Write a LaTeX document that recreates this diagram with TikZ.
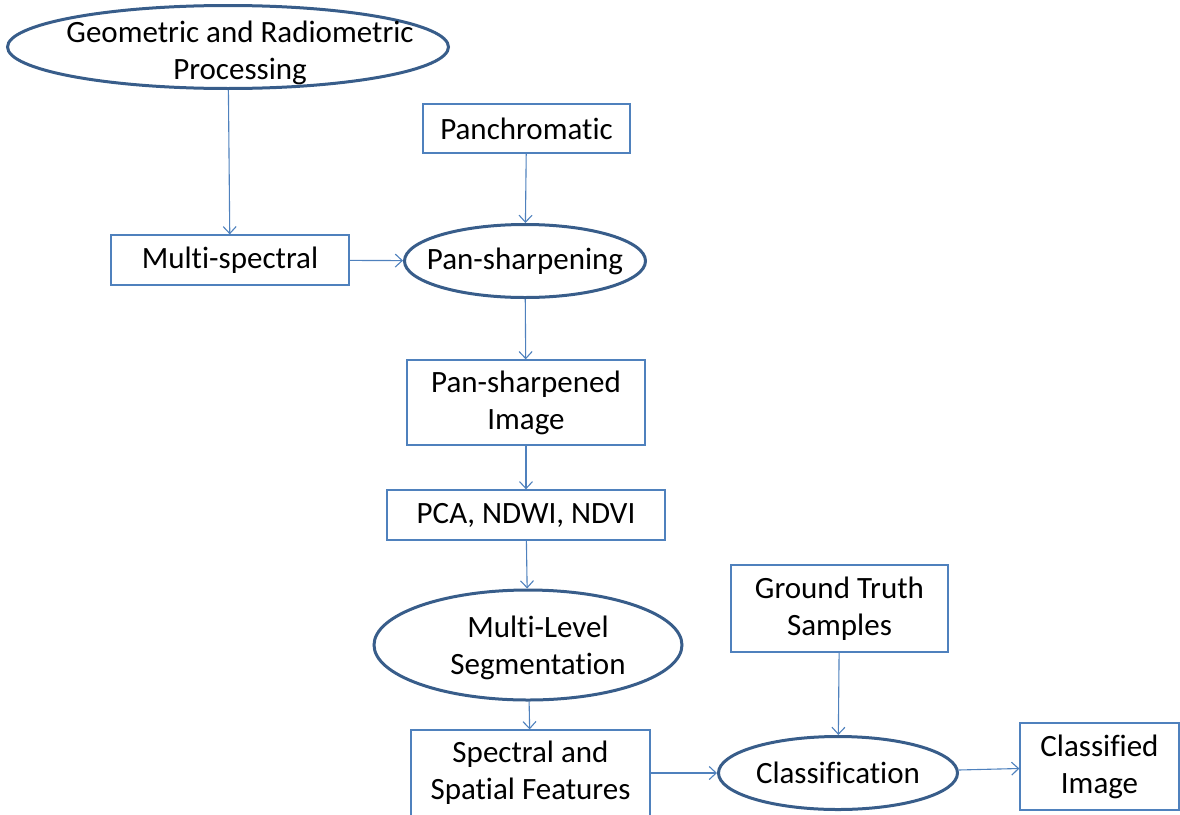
\documentclass[tikz,border=0pt]{standalone}
\usepackage{fontspec}
\setmainfont{Carlito}[Ligatures=NoCommon]
\usetikzlibrary{shapes.geometric,arrows.meta}
\definecolor{lineblue}{HTML}{4F81BD}
\definecolor{darkblue}{HTML}{385D8A}
\begin{document}
\begin{tikzpicture}
		[x=1pt,y=-1pt,
		mybox/.style={rectangle,draw=lineblue,line width=1.3pt,inner sep=0pt,align=center,
			font=\fontsize{31}{37}\selectfont},
		myellipse/.style={ellipse,draw=darkblue,line width=3pt,inner sep=0pt},
		mylabel/.style={align=center,font=\fontsize{31}{37}\selectfont},
		myarrow/.style={draw=lineblue,line width=1.1pt,-{Straight Barb[length=7pt,width=13pt]}}]
		\useasboundingbox (0,0) rectangle (1180,814);
		% ellipses
		\node[myellipse,minimum width=441,minimum height=83,
			label={[mylabel,xshift=12,yshift=-6]center:Geometric and Radiometric\\Processing}] (geo) at (228,47) {};
		\node[myellipse,minimum width=241,minimum height=73,
			label={[mylabel]center:Pan-sharpening}] (sharpening) at (525,261) {};
		\node[myellipse,minimum width=308,minimum height=110,
			label={[mylabel,xshift=10,yshift=-3]center:Multi-Level\\Segmentation}] (segment) at (528,645) {};
		\node[myellipse,minimum width=239,minimum height=73,
			label={[mylabel]center:Classification}] (classify) at (838,773) {};
		% boxes
		\node[mybox,minimum width=207,minimum height=49] (pan) at (526.5,128.5) {Panchromatic};
		\node[mybox,minimum width=238,minimum height=50] (multi) at (230,260) {Multi-spectral};
		\node[mybox,minimum width=238,minimum height=85] (sharpened) at (526,402.5) {Pan-sharpened\\Image};
		\node[mybox,minimum width=278,minimum height=50] (indices) at (526,515) {PCA, NDWI, NDVI};
		\node[mybox,minimum width=217,minimum height=87] (truth) at (839.5,608.5) {Ground Truth\\Samples};
		\node[mybox,minimum width=239,minimum height=86] (features) at (530.5,773) {Spectral and\\Spatial Features};
		\node[mybox,minimum width=159,minimum height=87] (classified) at (1099.5,766.5) {Classified\\Image};
		% arrows
		\draw[myarrow] (geo) -- (multi);
		\draw[myarrow] (multi) -- (sharpening);
		\draw[myarrow] (pan) -- (sharpening);
		\draw[myarrow] (sharpening) -- (sharpened);
		\draw[myarrow] (sharpened) -- (indices);
		\draw[myarrow] (indices) -- (segment);
		\draw[myarrow] (segment) -- (features);
		\draw[myarrow] (features) -- (classify);
		\draw[myarrow] (truth) -- (classify);
		\draw[myarrow] (classify) -- (classified);
	\end{tikzpicture}
\end{document}
